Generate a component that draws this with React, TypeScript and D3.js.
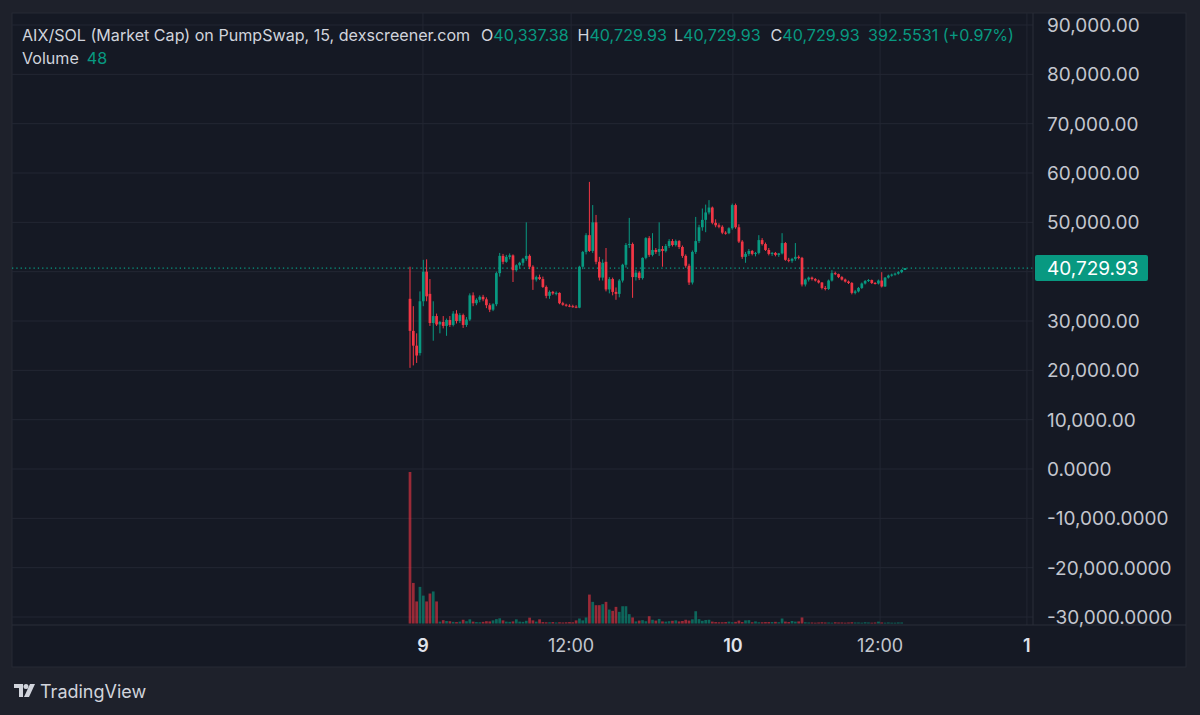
import * as d3 from "d3";

// candles: [open, high, low, close] in thousands, 15 min bars
const candles: [number, number, number, number][] = [
  [34.5, 41, 20.5, 28], [28, 33, 21, 25], [25, 27.5, 21.5, 23], [23.5, 36, 23, 34],
  [34, 42.4, 33, 40], [40, 42.5, 34, 35], [35.5, 38.5, 29, 29.6], [29.6, 34, 26, 31],
  [31, 31.5, 29, 29.3], [29.3, 30, 27.5, 29.8], [29.8, 31, 28.5, 29], [29, 30.5, 27, 30.2],
  [30.2, 31, 28.8, 29.2], [29.2, 32, 28.9, 31.5], [31.5, 32.2, 29.5, 30], [30, 31.6, 29.6, 31.2],
  [31.2, 31.5, 28.6, 29.2], [29.2, 30.8, 28.8, 30.3], [30.3, 35.6, 30, 35.2], [35.2, 35.8, 33, 33.6],
  [33.6, 34.6, 33.2, 34.3], [34.3, 35.2, 33.8, 34.9], [34.9, 35.3, 34, 34.4], [34.4, 34.8, 32.6, 33.2],
  [33.2, 33.6, 31.8, 32.3], [32.3, 33.6, 32, 33.4], [33.4, 40, 33, 39.7], [39.7, 43.8, 39, 43.2],
  [43.2, 43.6, 41.5, 42], [42, 43.4, 41.8, 43], [43, 43.7, 42.5, 43.3], [43.3, 43.5, 37.9, 40.3],
  [40.3, 41.5, 40, 41.3], [41.3, 42, 40.6, 41.8], [41.8, 42.8, 41.2, 42.6], [42.6, 50, 42.2, 43.2],
  [43.2, 43.5, 40.5, 41], [41, 41.3, 36.3, 38.4], [38.4, 39.2, 38, 38.9], [38.9, 39.4, 38.3, 38.5],
  [38.5, 39, 36.7, 36.9], [36.9, 37.2, 34.6, 35.1], [35.1, 36.2, 34.5, 35.9], [35.9, 36.1, 35.3, 35.6],
  [35.6, 36, 35.2, 35.7], [35.7, 35.8, 33.4, 33.6], [33.6, 33.9, 33.1, 33.3], [33.3, 33.5, 32.9, 33.1],
  [33.1, 33.4, 32.8, 33], [33, 33.3, 32.7, 32.9], [32.9, 33.2, 32.6, 32.7], [32.7, 41.2, 32.6, 41],
  [41, 44.2, 40.5, 44], [44, 47.8, 43.5, 47.4], [47.4, 58.2, 44, 44.2], [44.2, 53.5, 43.8, 50],
  [50, 51.5, 41.5, 42], [42, 43, 38.2, 38.8], [38.8, 42.5, 38.2, 41.8], [42, 44.8, 36, 36.4],
  [36.4, 38.9, 35.6, 38.5], [38.5, 38.8, 35.2, 35.9], [35.9, 36.8, 34.3, 35.5], [35.5, 38.5, 34.8, 38.2],
  [38.2, 41.6, 37.8, 41.4], [41.4, 45.8, 40.8, 45.4], [45.4, 50.9, 44.8, 45.6], [45.6, 45.9, 34.7, 38.9],
  [38.9, 40.4, 38.2, 39.8], [39.8, 40.1, 38.3, 38.7], [38.7, 42.9, 38.4, 42.8], [42.8, 47, 42.5, 46.8],
  [46.8, 47.2, 43, 43.4], [43.4, 47.8, 43.1, 44.4], [44.4, 44.8, 43.6, 44], [44, 50, 43.2, 44.6],
  [44.6, 45.2, 41, 44.2], [44.2, 45.6, 43.9, 45.2], [45.2, 46.6, 44.8, 46.2], [46.2, 46.6, 45.1, 45.4],
  [45.4, 46.5, 45.1, 46.2], [46.2, 46.4, 44.6, 45], [45, 45.3, 42.8, 43.2], [43.2, 43.5, 40.8, 41.2],
  [41.2, 41.6, 37.3, 37.8], [37.8, 44.3, 37.4, 44], [44, 51.1, 43.6, 46.2], [46.2, 49.5, 45.8, 49],
  [49, 52.8, 48.3, 50.5], [50.5, 53.6, 48, 52], [52, 54.5, 51.6, 53], [53, 53.2, 49.6, 49.9],
  [49.9, 50.6, 49, 49.4], [49.4, 49.8, 48.8, 49.1], [49.1, 49.4, 47.6, 47.9], [47.9, 48.2, 47.5, 47.8],
  [47.8, 49, 47.6, 48.8], [48.8, 53.8, 48.5, 53.5], [53.5, 53.8, 48.7, 49], [49, 49.6, 45.8, 46.1],
  [46.1, 46.4, 42.6, 43], [43, 44, 41.8, 43.6], [43.6, 44.6, 43.2, 44.2], [44.2, 44.4, 43.3, 43.6],
  [43.6, 44, 43.1, 43.8], [43.8, 47.4, 43.5, 46.4], [46.4, 46.8, 45.3, 45.6], [45.6, 45.9, 44.2, 44.4],
  [44.4, 44.8, 43.3, 43.6], [43.6, 44, 43.2, 43.8], [43.8, 44, 43.1, 43.4], [43.4, 43.8, 43, 43.7],
  [43.7, 47.8, 43.5, 45.8], [45.8, 46, 42.2, 42.4], [42.4, 42.8, 41.9, 42.2], [42.2, 42.8, 41.8, 42.6],
  [42.6, 45.8, 42.2, 43], [43, 43.3, 42.5, 42.8], [42.8, 43, 37, 37.4], [37.4, 38.6, 37, 38.4],
  [38.4, 39, 38, 38.8], [38.8, 39, 38.2, 38.5], [38.5, 38.7, 38, 38.2], [38.2, 38.4, 37.6, 37.8],
  [37.8, 37.9, 36.4, 36.7], [36.7, 37.1, 36.2, 36.5], [36.5, 38.4, 36.3, 38.2], [38.2, 40.3, 38, 39.7],
  [39.7, 40, 39.3, 39.5], [39.5, 39.6, 38.7, 38.9], [38.9, 39.1, 38.2, 38.4], [38.4, 38.6, 37.8, 38],
  [38, 38.2, 37.5, 37.7], [37.7, 37.9, 35.4, 35.7], [35.7, 36.3, 35.4, 36], [36, 36.9, 35.8, 36.7],
  [36.7, 37.8, 36.5, 37.6], [37.6, 38.3, 37.4, 38.1], [38.1, 38.5, 37.9, 38.3], [38.3, 38.4, 37.5, 37.7],
  [37.7, 37.9, 37.4, 37.6], [37.6, 38.4, 37.4, 38.2], [38.2, 39.9, 36.8, 37], [37, 38.9, 36.9, 38.8],
  [38.8, 39.4, 38.6, 39.2], [39.2, 39.6, 39, 39.4], [39.4, 39.8, 39.2, 39.6], [39.6, 40.1, 39.4, 39.9],
  [39.9, 40.5, 39.7, 40.33738], [40.33738, 40.72993, 40.33738, 40.72993],
];

const volumes: number[] = [
  7280, 1950, 1060, 1760, 1340, 1060, 1440, 1540, 1060,
  90, 160, 120, 110, 80, 70, 90, 180, 110,
  200, 90, 70, 60, 80, 110, 100, 150,
  210, 250, 150, 90, 80, 100, 200,
  90, 80, 130, 280, 150, 90, 200, 70, 60,
  60, 70, 50, 60, 50, 60, 70, 60, 150,
  240, 150, 290, 1390, 1040, 880, 880, 930, 1040, 670, 610, 800, 560, 830, 830, 450, 290,
  100, 140, 160, 110, 350, 180, 140, 220, 100, 90, 110, 130, 150, 100, 120, 180, 140, 200,
  590,
  210, 130, 170, 180, 90, 70, 60, 60, 70, 90, 60, 80, 140,
  70, 150, 160, 60, 100, 60, 60, 70, 70, 70, 80, 60,
  240, 90, 70, 120, 90, 100,
  290,
  60, 50, 50, 40, 50, 60, 50, 50, 40, 60, 50, 50, 40, 50, 60, 50,
  50, 40, 60, 50, 40, 50, 90, 50, 40, 50, 40, 40, 50, 48,
];

const priceTicks = [90000, 80000, 70000, 60000, 50000, 40000, 30000, 20000, 10000, 0, -10000, -20000, -30000];

const timeTicks = [
  { label: "9", bar: 3.9, day: true },
  { label: "12:00", bar: 48.5, day: false },
  { label: "10", bar: 97.2, day: true },
  { label: "12:00", bar: 141.5, day: false },
  { label: "1", bar: 185.7, day: true },
];

const legendTitle = "AIX/SOL (Market Cap) on PumpSwap, 15, dexscreener.com";
const legendValues = [
  { key: "O", value: "40,337.38" },
  { key: "H", value: "40,729.93" },
  { key: "L", value: "40,729.93" },
  { key: "C", value: "40,729.93" },
];
const legendChange = "392.5531 (+0.97%)";
const lastVolume = "48";

const UP = "#089981";
const DOWN = "#f23645";
const FONT = "Inter, 'Noto Sans', sans-serif";

const locale = d3.formatLocale({ decimal: ".", thousands: ",", grouping: [3], currency: ["$", ""], minus: "-" });
const fmt2 = locale.format(",.2f");
const fmt4 = locale.format(",.4f");

export default function App() {
  const left = 12, top = 13, right = 1186, bottom = 667;
  const axisX = 1033, axisY = 625;

  const x = d3.scaleLinear().domain([0, candles.length - 1]).range([410, 905]);
  const y = d3.scaleLinear().domain([-30000, 90000]).range([617, 25]);
  const yv = d3.scaleLinear().domain([0, d3.max(volumes)!]).range([623.5, 472]);
  const bw = 2.7;

  const last = candles[candles.length - 1][3] * 1000;

  return (
    <svg width={1200} height={715} style={{ position: "absolute", left: 0, top: 0, background: "#1e212b" }}
      fontFamily={FONT}>
      <rect x={0} y={0} width={1200} height={715} fill="#1e212b" />
      <rect x={left} y={top} width={right - left} height={bottom - top} fill="#151924" stroke="#262a35" />

      {/* grid */}
      {priceTicks.map((t) => (
        <line key={"g" + t} x1={left} x2={axisX} y1={y(t)} y2={y(t)} stroke="#232733" />
      ))}
      {timeTicks.filter((t) => x(t.bar) < axisX).map((t, i) => (
        <line key={"v" + i} x1={x(t.bar)} x2={x(t.bar)} y1={top} y2={axisY} stroke="#232733" />
      ))}

      {/* volume */}
      {volumes.map((v, i) => {
        const c = candles[i];
        const up = c[3] >= c[0];
        return (
          <rect key={"vol" + i} x={x(i) - bw / 2} y={yv(v)} width={bw} height={Math.max(0.8, yv(0) - yv(v))}
            fill={up ? UP : DOWN} fillOpacity={0.6} />
        );
      })}

      {/* last price line */}
      <line x1={left} x2={axisX} y1={y(last)} y2={y(last)} stroke={UP} strokeDasharray="1.3 3" strokeWidth={1.3} />

      {/* candles */}
      {candles.map((c, i) => {
        const [o, h, l, cl] = c.map((v) => v * 1000);
        const color = cl >= o ? UP : DOWN;
        const yt = y(Math.max(o, cl));
        const yb = y(Math.min(o, cl));
        return (
          <g key={"c" + i}>
            <line x1={x(i)} x2={x(i)} y1={y(h)} y2={y(l)} stroke={color} strokeWidth={1} />
            <rect x={x(i) - bw / 2} y={yt} width={bw} height={Math.max(1, yb - yt)} fill={color} />
          </g>
        );
      })}

      {/* axes separators */}
      <line x1={axisX} x2={axisX} y1={top} y2={axisY} stroke="#2a2e39" />
      <line x1={left} x2={right} y1={axisY} y2={axisY} stroke="#2a2e39" />

      {/* price axis labels */}
      {priceTicks.filter((t) => t !== 40000).map((t) => (
        <text key={"pt" + t} x={1047} y={y(t)} dy="0.36em" fontSize={19} fill="#c3c6ce">
          {t > 0 ? fmt2(t) : fmt4(t)}
        </text>
      ))}
      <rect x={1035} y={y(last) - 13} width={113} height={26} rx={2} fill={UP} />
      <text x={1047} y={y(last)} dy="0.36em" fontSize={19} fill="#ffffff">{fmt2(last)}</text>

      {/* time axis labels */}
      {timeTicks.map((t, i) => (
        <text key={"tt" + i} x={x(t.bar)} y={646} dy="0.36em" textAnchor="middle" fontSize={18}
          fill={t.day ? "#e0e3eb" : "#c3c6ce"} fontWeight={t.day ? 600 : 400}>
          {t.label}
        </text>
      ))}

      {/* legend */}
      <text x={22} y={41} fontSize={16.1} fill="#d1d4dc">{legendTitle}</text>
      {legendValues.map((d, i) => (
        <text key={"lv" + i} x={481 + i * 96.5} y={41} fontSize={16.1} fill="#d1d4dc">
          {d.key}<tspan fill={UP}>{d.value}</tspan>
        </text>
      ))}
      <text x={868} y={41} fontSize={16.1} fill={UP}>{legendChange}</text>
      <text x={22} y={64} fontSize={16.1} fill="#d1d4dc">Volume<tspan dx={8} fill={UP}>{lastVolume}</tspan></text>

      {/* TradingView logo */}
      <g transform="translate(14,684)" fill="#d1d4dc">
        <path d="M0 0 H9 V13 H5 V4 H0 Z" />
        <circle cx={12} cy={2.5} r={2.5} />
        <path d="M16 0 H21 L15 13 H10 Z" />
      </g>
      <text x={40} y={698} fontSize={18} fill="#d1d4dc">TradingView</text>
    </svg>
  );
}
